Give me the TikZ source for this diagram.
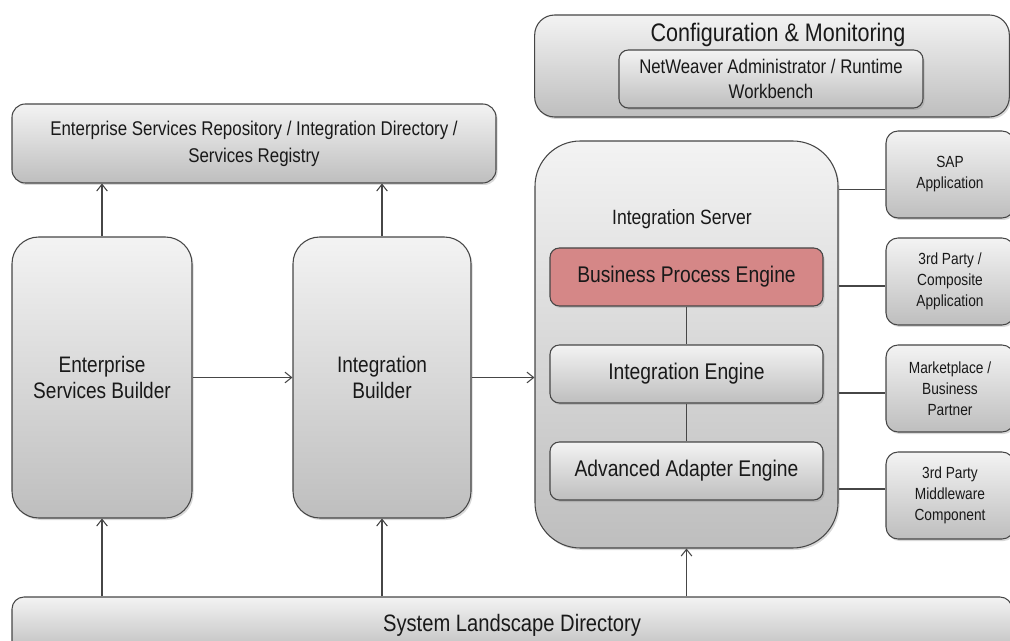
\documentclass[tikz,border=0pt]{standalone}
\usepackage{fontspec}
\setmainfont[FakeStretch=0.85]{Liberation Sans}
\usetikzlibrary{shadows, arrows.meta}

\definecolor{boxline}{RGB}{70,70,70}
\definecolor{boxtop}{RGB}{243,243,243}
\definecolor{boxbot}{RGB}{190,190,190}
\definecolor{bpered}{RGB}{213,135,135}
\definecolor{txt}{RGB}{25,25,25}

\begin{document}
\begin{tikzpicture}[x=0.75pt, y=-0.75pt, >={Straight Barb[length=5pt, width=8pt]}, line width=0.8pt, draw=boxline,
  box/.style={draw=boxline, rectangle, rounded corners=9pt, top color=boxtop, bottom color=boxbot,
    drop shadow={shadow xshift=1.2pt, shadow yshift=-1.5pt, opacity=0.3}, align=center,
    text=txt, inner sep=0pt},
  tall/.style={box, rounded corners=20pt, minimum width=#1, minimum height=210.75pt,
    font=\fontsize{16.8}{19.5}\selectfont},
  eng/.style={box, rounded corners=7pt, minimum width=204.75pt, minimum height=43.5pt,
    font=\fontsize{17}{20}\selectfont},
  side/.style={box, rounded corners=9pt, minimum width=96pt, minimum height=65.25pt,
    font=\fontsize{12.1}{15.75}\selectfont}]
\useasboundingbox (0,0) rectangle (1010,641);
\clip (0,0) rectangle (1010,641);

% configuration and monitoring
\node[box, rounded corners=15pt, minimum width=356pt, minimum height=76.5pt] (cfg) at (772,66) {};
\node[text=txt, font=\fontsize{19}{22}\selectfont] (cfgtitle) at (778,35) {Configuration \& Monitoring};
\node[box, rounded corners=7pt, minimum width=228pt, minimum height=43.5pt,
  font=\fontsize{14.8}{18.75}\selectfont] (nwa) at (771,79) {NetWeaver Administrator / Runtime\\Workbench};

% design time
\node[box, rounded corners=10pt, minimum width=363pt, minimum height=59.25pt,
  font=\fontsize{14.9}{20.25}\selectfont] (esr) at (254,143.5) {Enterprise Services Repository / Integration Directory /\\Services Registry};
\node[tall=135pt] (esb) at (102,377.5) {Enterprise\\Services Builder};
\node[tall=133.5pt] (ib) at (382,377.5) {Integration\\Builder};

% integration server
\node[box, rounded corners=34pt, minimum width=227.25pt, minimum height=305.25pt] (is) at (686.5,344.5) {};
\node[text=txt, font=\fontsize{15.5}{18}\selectfont] (istitle) at (682,219) {Integration Server};
\node[eng, top color=bpered, bottom color=bpered] (bpe) at (686.5,277) {Business Process Engine};
\node[eng] (ie) at (686.5,374) {Integration Engine};
\node[eng] (aae) at (686.5,471) {Advanced Adapter Engine};

% systems
\node[side] (sap) at (950,174.5) {SAP\\Application};
\node[side] (comp) at (950,281.5) {3rd Party /\\Composite\\Application};
\node[side] (mkt) at (950,388.5) {Marketplace /\\Business\\Partner};
\node[side] (mw) at (950,495.5) {3rd Party\\Middleware\\Component};

\node[box, rounded corners=9pt, minimum width=750pt, minimum height=42pt,
  font=\fontsize{17.8}{20}\selectfont] (sld) at (512,625) {System Landscape Directory};

% connections
\draw[->] (esb.north) -- (esb.north |- esr.south);
\draw[->] (ib.north) -- (ib.north |- esr.south);
\draw[->] (esb.east) -- (ib.west);
\draw[->] (ib.east) -- (is.west |- ib.east);
\draw (bpe) -- (ie);
\draw (ie) -- (aae);
\draw[->] (esb.south |- sld.north) -- (esb.south);
\draw[->] (ib.south |- sld.north) -- (ib.south);
\draw[->] (sld.north -| is.south) -- (is.south);
\draw ([yshift=-11.6pt]sap.west -| is.east) -- ([yshift=-11.6pt]sap.west);
\draw ([yshift=-3.4pt]comp.west -| is.east) -- ([yshift=-3.4pt]comp.west);
\draw ([yshift=-3.4pt]mkt.west -| is.east) -- ([yshift=-3.4pt]mkt.west);
\draw ([yshift=4.9pt]mw.west -| is.east) -- ([yshift=4.9pt]mw.west);
\end{tikzpicture}
\end{document}
